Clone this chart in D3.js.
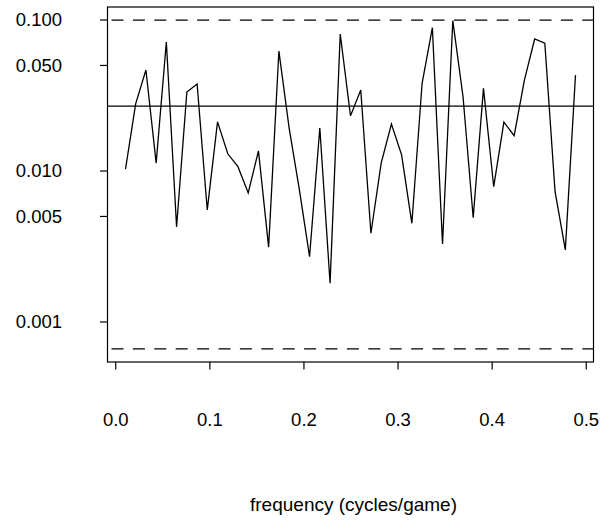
<!DOCTYPE html>
<html>
<head>
<meta charset="utf-8">
<script src="https://cdn.jsdelivr.net/npm/d3@7"></script>
<style>
  html, body { margin: 0; padding: 0; background: #fff; }
  svg { display: block; }
  text { font-family: "Liberation Sans", Arial, Helvetica, sans-serif; fill: #000; }
</style>
</head>
<body>
<svg id="chart" width="613" height="522"></svg>
<script>
// ---- data ----
const frequency = [
  0.0109, 0.0217, 0.0326, 0.0435, 0.0543, 0.0652, 0.0761, 0.0870, 0.0978,
  0.1087, 0.1196, 0.1304, 0.1413, 0.1522, 0.1630, 0.1739, 0.1848, 0.1957,
  0.2065, 0.2174, 0.2283, 0.2391, 0.2500, 0.2609, 0.2717, 0.2826, 0.2935,
  0.3043, 0.3152, 0.3261, 0.3370, 0.3478, 0.3587, 0.3696, 0.3804, 0.3913,
  0.4022, 0.4130, 0.4239, 0.4348, 0.4457, 0.4565, 0.4674, 0.4783, 0.4891
];
const spectrum = [
  0.0102, 0.0276, 0.0463, 0.0112, 0.0710, 0.00423, 0.0331, 0.0374, 0.00548,
  0.0210, 0.0129, 0.0106, 0.00710, 0.0135, 0.00311, 0.0618, 0.0191, 0.00743,
  0.00269, 0.0191, 0.00179, 0.0802, 0.0230, 0.0341, 0.00384, 0.0112, 0.0203,
  0.0127, 0.00447, 0.0378, 0.0882, 0.00326, 0.0982, 0.0308, 0.00487, 0.0350,
  0.00781, 0.0209, 0.0170, 0.0397, 0.0743, 0.0696, 0.00724, 0.00298, 0.0429
];
const upperBound = 0.0990;
const lowerBound = 0.000659;
const meanLevel = 0.0267;
const yTicks = [0.001, 0.005, 0.010, 0.050, 0.100];
const yTickLabels = ["0.001", "0.005", "0.010", "0.050", "0.100"];
const xTicks = [0.0, 0.1, 0.2, 0.3, 0.4, 0.5];
const xTickLabels = ["0.0", "0.1", "0.2", "0.3", "0.4", "0.5"];
const xLabel = "frequency (cycles/game)";

// ---- layout ----
const box = { left: 107.5, right: 593.5, top: 7, bottom: 362 };
const svg = d3.select("#chart");

// x: R-style 4% extension
const xmin = d3.min(frequency), xmax = d3.max(frequency);
const xpad = (xmax - xmin) * 0.04;
const x = d3.scaleLinear().domain([xmin - xpad, xmax + xpad]).range([box.left, box.right]);

// y: log, range of bounds with 4% extension in log space
const lmin = Math.log10(lowerBound), lmax = Math.log10(upperBound);
const lpad = (lmax - lmin) * 0.04;
const y = d3.scaleLog().domain([Math.pow(10, lmin - lpad), Math.pow(10, lmax + lpad)]).range([box.bottom, box.top]);

// horizontal reference lines
svg.append("line")
  .attr("x1", box.left).attr("x2", box.right)
  .attr("y1", y(meanLevel)).attr("y2", y(meanLevel))
  .attr("stroke", "#000").attr("stroke-width", 1.2);
[upperBound, lowerBound].forEach(v => {
  svg.append("line")
    .attr("x1", box.left).attr("x2", box.right)
    .attr("y1", y(v)).attr("y2", y(v))
    .attr("stroke", "#000").attr("stroke-width", 1.2)
    .attr("stroke-dasharray", "12,9.4")
    .attr("stroke-dashoffset", -4);
});

// data line
const line = d3.line().x((d, i) => x(frequency[i])).y(d => y(d));
svg.append("path")
  .datum(spectrum)
  .attr("d", line)
  .attr("fill", "none")
  .attr("stroke", "#000")
  .attr("stroke-width", 1.3)
  .attr("stroke-linejoin", "miter");

// box
svg.append("rect")
  .attr("x", box.left).attr("y", box.top)
  .attr("width", box.right - box.left).attr("height", box.bottom - box.top)
  .attr("fill", "none").attr("stroke", "#000").attr("stroke-width", 1.2);

// y axis
const yAxis = d3.axisLeft(y).tickValues(yTicks).tickFormat((d, i) => yTickLabels[i])
  .tickSize(7.5).tickPadding(38);
const gy = svg.append("g").attr("transform", `translate(${box.left},0)`).call(yAxis);
gy.select(".domain").remove();
gy.selectAll(".tick line").attr("stroke", "#000").attr("stroke-width", 1.2);
gy.selectAll(".tick text")
  .attr("font-size", 18.5).attr("font-family", "Liberation Sans, Arial, sans-serif")
  .attr("dy", "0.34em").attr("fill", "#000");

// x axis
const xAxis = d3.axisBottom(x).tickValues(xTicks).tickFormat((d, i) => xTickLabels[i])
  .tickSize(7.5).tickPadding(43.5);
const gx = svg.append("g").attr("transform", `translate(0,${box.bottom})`).call(xAxis);
gx.select(".domain").remove();
gx.selectAll(".tick line").attr("stroke", "#000").attr("stroke-width", 1.2);
gx.selectAll(".tick text")
  .attr("font-size", 18.5).attr("font-family", "Liberation Sans, Arial, sans-serif")
  .attr("fill", "#000");

// x label
svg.append("text")
  .attr("x", (box.left + box.right) / 2 + 3)
  .attr("y", 511)
  .attr("text-anchor", "middle")
  .attr("font-size", 19)
  .text(xLabel);
</script>
</body>
</html>
